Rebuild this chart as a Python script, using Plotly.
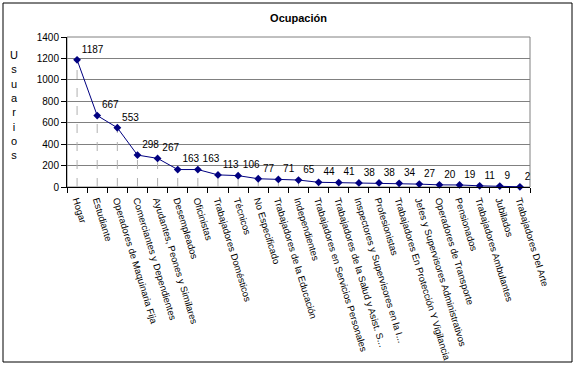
import plotly.graph_objects as go

categories = [
    "Hogar", "Estudiante", "Operadores de Maquinaria Fija", "Comerciantes y Dependientes",
    "Ayudantes, Peones y Similares", "Desempleados", "Oficinistas", "Trabajadores Domésticos",
    "Técnicos", "No Especificado", "Trabajadores de la Educación", "Independientes",
    "Trabajadores en Servicios Personales", "Trabajadores de la Salud y Asist. S...",
    "Inspectores y Supervisores en la I...", "Profesionistas",
    "Trabajadores En Protección Y Vigilancia", "Jefes y Supervisores Administrativos",
    "Operadores de Transporte", "Pensionados", "Trabajadores Ambulantes", "Jubilados",
    "Trabajadores Del Arte",
]
values = [1187, 667, 553, 298, 267, 163, 163, 113, 106, 77, 71, 65, 44, 41, 38, 38, 34, 27, 20, 19, 11, 9, 2]
y_ticks = [0, 200, 400, 600, 800, 1000, 1200, 1400]
title_text = "Ocupación"
y_title = "Usuarios"

FONT = "Arial, Liberation Sans, sans-serif"
W, H = 576, 365
ml, mr, mt, mb = 67, 46, 37, 178
pw, ph = W - ml - mr, H - mt - mb

fig = go.Figure()

# drop lines
dx, dy = [], []
for c, v in zip(categories, values):
    dx += [c, c, None]
    dy += [0, v, None]
fig.add_trace(go.Scatter(x=dx, y=dy, mode="lines",
                         line=dict(color="#b0b0b0", width=1, dash="dash"),
                         hoverinfo="skip", showlegend=False))

fig.add_trace(go.Scatter(
    x=categories, y=values, mode="lines+markers+text",
    line=dict(color="#000080", width=1),
    marker=dict(symbol="diamond", size=6, color="#000080"),
    text=[str(v) for v in values], textposition="top right",
    textfont=dict(family=FONT, size=10, color="black"),
    showlegend=False, cliponaxis=False,
))

fig.update_layout(
    width=W, height=H,
    margin=dict(l=ml, r=mr, t=mt, b=mb),
    paper_bgcolor="white", plot_bgcolor="white",
    font=dict(family=FONT, size=10, color="black"),
    title=dict(text="<b>" + title_text + "</b>", x=(ml + pw / 2) / W, xanchor="center",
               y=1 - 18 / H, yanchor="middle", font=dict(family=FONT, size=11)),
    xaxis=dict(type="category", range=[-0.5, len(categories) - 0.5],
               tickson="boundaries", ticks="outside", ticklen=5, tickcolor="black",
               showline=True, linecolor="black", linewidth=1, showgrid=False,
               tickangle=73, ticklabelstandoff=3,
               tickfont=dict(family=FONT, size=9.5), automargin=False),
    yaxis=dict(range=[0, 1400], tickvals=y_ticks, ticks="outside", ticklen=5,
               tickcolor="black", showline=True, linecolor="black", linewidth=1,
               showgrid=True, gridcolor="#808080", gridwidth=1, zeroline=False,
               tickfont=dict(family=FONT, size=10), automargin=False),
    shapes=[
        dict(type="rect", xref="paper", yref="paper", x0=0, x1=1, y0=0, y1=1,
             line=dict(color="#808080", width=1), layer="below"),
        dict(type="rect", xref="paper", yref="paper",
             x0=(3 - ml) / pw, x1=(572 - ml) / pw,
             y0=(H - mb - 362) / ph, y1=(H - mb - 3) / ph,
             line=dict(color="black", width=1)),
    ],
    annotations=[dict(text="<br>".join(list(y_title)), xref="paper", yref="paper",
                      x=(14 - ml) / pw, y=0.55, xanchor="center", yanchor="middle",
                      showarrow=False, font=dict(family=FONT, size=11), align="center")],
)

fig.write_html("out.html", config={"displayModeBar": False},
               post_script="document.body.style.margin='0';document.body.style.overflow='hidden';")
